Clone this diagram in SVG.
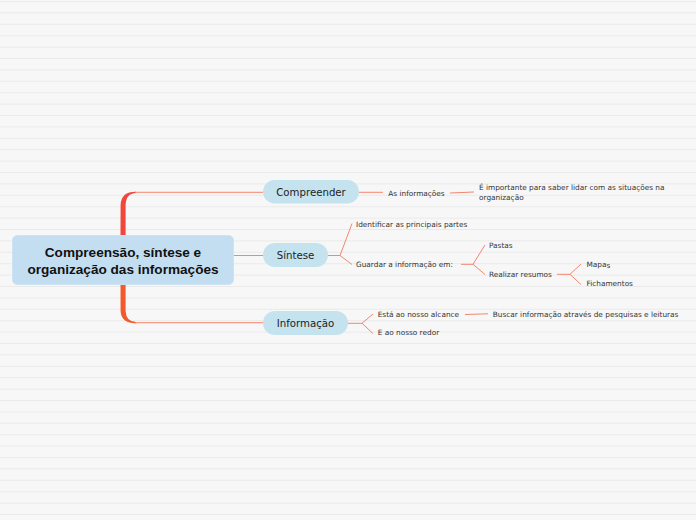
<svg xmlns="http://www.w3.org/2000/svg" width="696" height="520" viewBox="0 0 696 520">
<style>
.bg{stroke:#eaeaea;stroke-width:1;fill:none}
.root{fill:#c3def1;stroke:#cde3f3;stroke-width:1}
.rootText{font-family:"Liberation Sans",Arial,sans-serif;font-weight:bold;font-size:13.6px;fill:#111;text-anchor:middle}
.pill{fill:#c4e3ef}
.pillText{font-family:"DejaVu Sans",Verdana,sans-serif;font-size:10.2px;fill:#222;text-anchor:middle}
.leaf{font-family:"DejaVu Sans",Verdana,sans-serif;font-size:7.35px;fill:#333}
.ln{stroke:#f4866e;stroke-width:1;fill:none}
</style>
<rect width="696" height="520" fill="#f7f7f7"/>
<path class="bg" d="M0 1.5H696M0 12.9H696M0 24.3H696M0 35.7H696M0 47.1H696M0 58.5H696M0 69.9H696M0 81.3H696M0 92.7H696M0 104.1H696M0 115.5H696M0 126.9H696M0 138.3H696M0 149.7H696M0 161.1H696M0 172.5H696M0 183.9H696M0 195.3H696M0 206.7H696M0 218.1H696M0 229.5H696M0 240.9H696M0 252.3H696M0 263.7H696M0 275.1H696M0 286.5H696M0 297.9H696M0 309.3H696M0 320.7H696M0 332.1H696M0 343.5H696M0 354.9H696M0 366.3H696M0 377.7H696M0 389.1H696M0 400.5H696M0 411.9H696M0 423.3H696M0 434.7H696M0 446.1H696M0 457.5H696M0 468.9H696M0 480.3H696M0 491.7H696M0 503.1H696M0 514.5H696"/>
<g id="connectors">
<path d="M120.5 236 L120.6 205 Q121 191.6 136 191.7 L136 193 Q126 193.4 125.6 205 L125.6 236 Z" fill="#f2463a"/>
<path d="M120.5 284 L120.6 311 Q121 323.3 136 323.3 L136 322 Q126 321.7 125.6 311 L125.6 284 Z" fill="#f25a2b"/>
<path class="ln" d="M135 192.3H263"/>
<path class="ln" d="M135 322.7H263"/>
<path class="ln" d="M234 255.5H263"/>
<path class="ln" d="M359 192.3H383"/>
<path class="ln" d="M450 193L474 192"/>
<path class="ln" d="M328 255.5H340L352 223.5M340 255.5L352 264.5"/>
<path class="ln" d="M461 264.3H473L485 245M473 264.3L485 274.5"/>
<path class="ln" d="M557 274.3H570L581 264M570 274.3L581 284.5"/>
<path class="ln" d="M348 323.3H362L373 314M362 323.3L373 333.5"/>
<path class="ln" d="M465 314.5L488 313.8"/>
</g>
<g id="root">
<rect class="root" x="12.5" y="235.5" width="221" height="49" rx="5"/>
<text class="rootText" x="123" y="257">Compreensão, síntese e</text>
<text class="rootText" x="123" y="274">organização das informações</text>
</g>
<g id="compreender">
<rect class="pill" x="263" y="180" width="96" height="23.5" rx="11.7"/>
<text class="pillText" x="311" y="195.8">Compreender</text>
</g>
<g id="sintese">
<rect class="pill" x="263" y="243" width="65" height="24" rx="12"/>
<text class="pillText" x="295.5" y="259.3">Síntese</text>
</g>
<g id="informacao">
<rect class="pill" x="263" y="311" width="85" height="24" rx="12"/>
<text class="pillText" x="305.5" y="327.3">Informação</text>
</g>
<g id="as-informacoes"><text class="leaf" x="388.3" y="196">As informações</text></g>
<g id="importante"><text class="leaf" x="479" y="189.5">É importante para saber lidar com as situações na</text><text class="leaf" x="479" y="199.5">organização</text></g>
<g id="identificar"><text class="leaf" x="356" y="226.5">Identificar as principais partes</text></g>
<g id="guardar"><text class="leaf" x="356" y="266.5">Guardar a informação em:</text></g>
<g id="pastas"><text class="leaf" x="489" y="248">Pastas</text></g>
<g id="resumos"><text class="leaf" x="489" y="277">Realizar resumos</text></g>
<g id="mapas"><text class="leaf" x="586.5" y="266.5">Mapa<tspan dy="1.5">s</tspan></text></g>
<g id="fichamentos"><text class="leaf" x="586.5" y="286">Fichamentos</text></g>
<g id="alcance"><text class="leaf" x="377.7" y="316.7">Está ao nosso alcance</text></g>
<g id="redor"><text class="leaf" x="377.7" y="334.5">E ao nosso redor</text></g>
<g id="buscar"><text class="leaf" x="492.7" y="316.7">Buscar informação através de pesquisas e leituras</text></g>
</svg>
